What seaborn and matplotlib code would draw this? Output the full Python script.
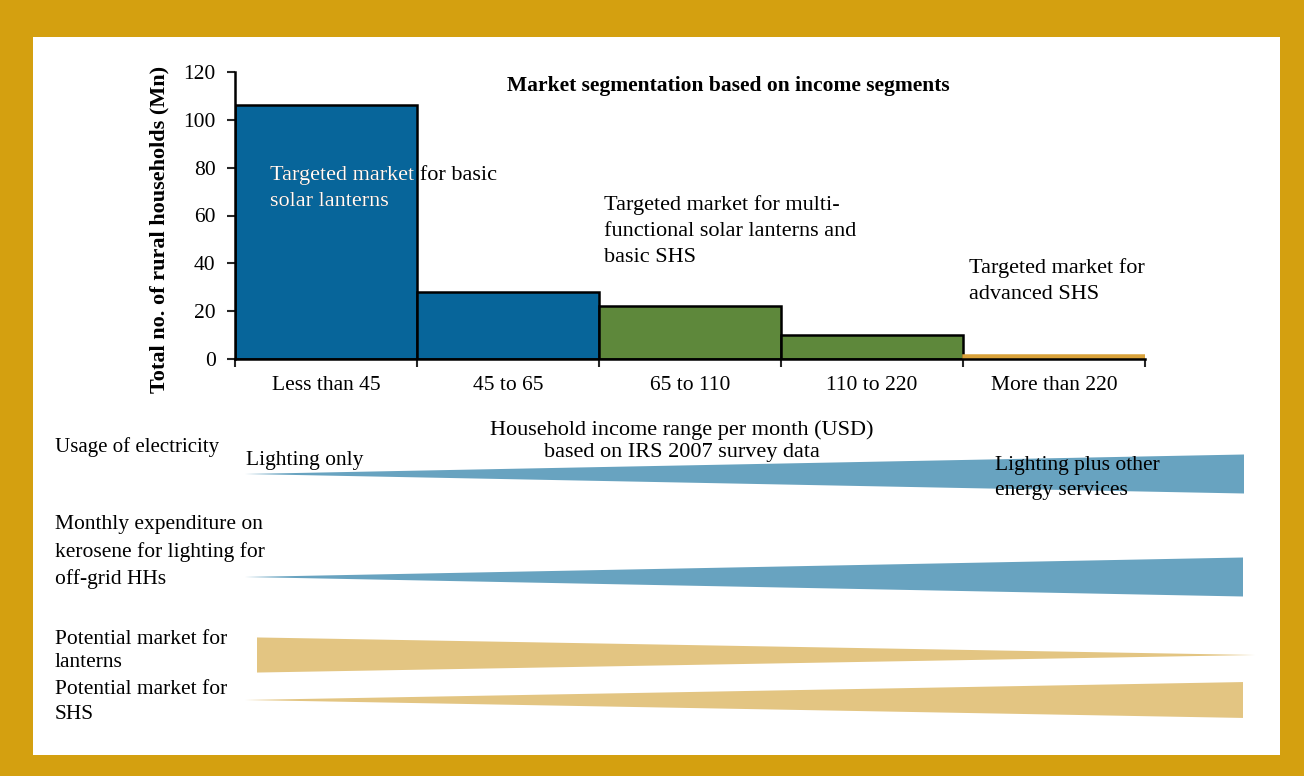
import pandas as pd
import seaborn as sns
import matplotlib.pyplot as plt
from matplotlib.patches import Rectangle, Polygon
from matplotlib.transforms import TransformedBbox

# data
income_ranges = ["Less than 45", "45 to 65", "65 to 110", "110 to 220", "More than 220"]
households_mn = [106, 28, 22, 10, 1.5]
segment_group = ["basic lanterns", "basic lanterns", "multi-functional", "multi-functional", "advanced SHS"]
segment_colors = {"basic lanterns": "#07659a", "multi-functional": "#5e883b", "advanced SHS": "#d9a23a"}

# indicator wedges: relative thickness at the low / high income end
indicator_labels = ["Usage of electricity",
                    "Monthly expenditure on\nkerosene for lighting for\noff-grid HHs",
                    "Potential market for\nlanterns",
                    "Potential market for\nSHS"]
thickness_low = [0.0, 0.0, 0.9, 0.0]
thickness_high = [1.0, 1.0, 0.0, 0.92]
indicator_colors = ["#68a3c0", "#68a3c0", "#e3c582", "#e3c582"]

W, H = 1304, 776
GOLD = "#d4a010"
FS = 15.5

sns.set_style("white")
plt.rcParams["font.family"] = ["Liberation Serif", "DejaVu Serif"]
plt.rcParams["font.size"] = FS
plt.rcParams["text.color"] = "black"

fig = plt.figure(figsize=(W / 100, H / 100), dpi=100, facecolor=GOLD)

# white inner panel
bg = fig.add_axes([0, 0, 1, 1], zorder=-10)
bg.set_xlim(0, W)
bg.set_ylim(H, 0)
bg.axis("off")
bg.add_patch(Rectangle((33, 37), 1280 - 33, 755 - 37, facecolor="white", edgecolor="none"))

# bar chart
ax = fig.add_axes([235 / W, 1 - 359 / H, (1145 - 235) / W, (359 - 72) / H])
ax.set_facecolor("none")
df = pd.DataFrame({"income": income_ranges, "hh": households_mn, "group": segment_group})
sns.barplot(data=df, x="income", y="hh", hue="group", palette=segment_colors, dodge=False,
            width=1, saturation=1, edgecolor="black", linewidth=1.8, legend=False, ax=ax)
for p in ax.patches:
    if p.get_height() < 5:
        p.set_edgecolor(segment_colors["advanced SHS"])
first_bar = [p for p in ax.patches if p.get_height() == max(households_mn)][0]

ax.set_xlim(-0.5, 4.5)
ax.set_ylim(0, 120)
ax.set_yticks(range(0, 121, 20))
ax.set_xticks([i - 0.5 for i in range(6)])
ax.set_xticklabels([])
ax.set_xticks(range(5), minor=True)
ax.set_xticklabels(income_ranges, minor=True)
ax.tick_params(axis="x", which="minor", length=0, pad=12, labelsize=FS, labelcolor="black")
ax.tick_params(axis="x", which="major", direction="out", length=6, width=1.5, bottom=True)
ax.tick_params(axis="y", direction="out", length=6, width=1.5, left=True, pad=8, labelsize=15.5,
               labelcolor="black")
sns.despine(ax=ax)
for s in ["left", "bottom"]:
    ax.spines[s].set_linewidth(1.8)
    ax.spines[s].set_color("black")
ax.set_xlabel("")
ax.set_ylabel("Total no. of rural households (Mn)", fontweight="bold", fontsize=16, color="black")
ax.yaxis.set_label_coords(-0.072, 0.45)
ax.text(0.542, 0.951, "Market segmentation based on income segments", transform=ax.transAxes,
        ha="center", va="center", fontweight="bold", fontsize=15.5)

# overlay in pixel coordinates
ov = fig.add_axes([0, 0, 1, 1], zorder=5)
ov.set_xlim(0, W)
ov.set_ylim(H, 0)
ov.axis("off")
ov.patch.set_alpha(0)

ov.text(682, 441, "Household income range per month (USD)\nbased on IRS 2007 survey data",
        ha="center", va="center", linespacing=1.26, fontsize=16)

# annotations on the bar chart (white where the text sits on the first bar)
basic_txt = "Targeted market for basic\nsolar lanterns"
ov.text(270, 188, basic_txt, ha="left", va="center", color="black", linespacing=1.48, fontsize=16)
t = ov.text(270, 188, basic_txt, ha="left", va="center", color="white", linespacing=1.48, fontsize=16,
            clip_on=True)
t.set_clip_path(None)
t.set_clip_box(TransformedBbox(first_bar.get_bbox(), ax.transData))
ov.text(604, 231, "Targeted market for multi-\nfunctional solar lanterns and\nbasic SHS",
        ha="left", va="center", linespacing=1.47, fontsize=16)
ov.text(969, 281, "Targeted market for\nadvanced SHS", ha="left", va="center", linespacing=1.47,
        fontsize=16)

# indicator wedges
row_y = [474, 577, 655, 700]
row_x = [(245, 1244), (245, 1243), (257, 1255), (245, 1243)]
max_half = 19.5
for lab, y, (x0, x1), a, b, c in zip(indicator_labels, row_y, row_x,
                                     thickness_low, thickness_high, indicator_colors):
    pts = [(x0, y - a * max_half), (x1, y - b * max_half), (x1, y + b * max_half), (x0, y + a * max_half)]
    ov.add_patch(Polygon(pts, closed=True, facecolor=c, edgecolor="none", zorder=1))

label_pos = [(55, 447), (55, 552), (55, 651), (55, 702)]
spacings = [1.2, 1.5, 1.25, 1.36]
label_sizes = [15, 15.5, 15.5, 15.5]
for lab, (x, y), ls, fs in zip(indicator_labels, label_pos, spacings, label_sizes):
    ov.text(x, y, lab, ha="left", va="center", linespacing=ls, fontsize=fs)

ov.text(246, 461, "Lighting only", ha="left", va="center", zorder=3)
ov.text(995, 478, "Lighting plus other\nenergy services", ha="left", va="center", linespacing=1.36, zorder=3)

fig.savefig("out.png", dpi=100, facecolor=GOLD)
